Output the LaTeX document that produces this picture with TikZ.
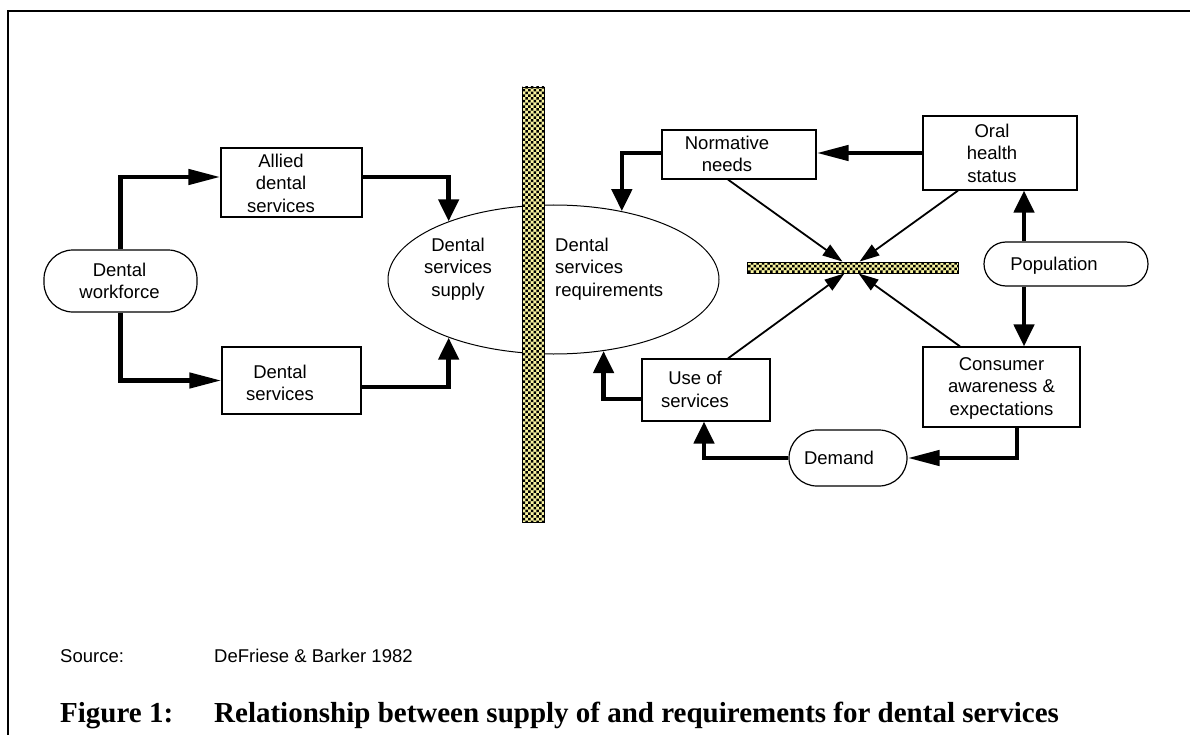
\documentclass[tikz,border=0pt]{standalone}
\usepackage{fontspec}
\setmainfont{Liberation Sans}
\newfontfamily\figcapfont{Liberation Serif}
\usetikzlibrary{arrows.meta}
\usetikzlibrary{shapes.geometric}
\usetikzlibrary{patterns}
\usetikzlibrary{calc}

\pgfdeclarepatternformonly{barspeckle}{\pgfqpoint{-1pt}{-1pt}}{\pgfqpoint{6.5pt}{6.5pt}}{\pgfqpoint{5.5pt}{5.5pt}}{%
  \pgfpathrectangle{\pgfqpoint{0pt}{0pt}}{\pgfqpoint{2.7pt}{2.5pt}}%
  \pgfpathrectangle{\pgfqpoint{2.75pt}{2.75pt}}{\pgfqpoint{2.7pt}{2.5pt}}%
  \pgfusepath{fill}}

\begin{document}
\begin{tikzpicture}[x=1pt,y=1pt,yscale=-1,xscale=1,
  every node/.style={font=\fontsize{18.5}{22.5}\selectfont},
  box/.style={draw, line width=1.2pt, inner sep=0pt},
  pill/.style={draw, line width=1.2pt, inner sep=0pt},
  boxtext/.style={align=center, inner sep=0pt},
  hatchbar/.style={draw, line width=0.8pt, inner sep=0pt, fill={rgb,255:red,250;green,245;blue,160}, postaction={pattern=barspeckle}},
  flow/.style={line width=4.5pt},
  vtip/.style={-{Triangle[length=22pt,width=20pt]}},
  htip/.style={-{Triangle[length=32pt,width=15pt]}},
  ray/.style={line width=1.8pt,-{Triangle[length=20pt,width=13pt]}}
]
\useasboundingbox (0,0) rectangle (1190,735);

%Straight Lines [frame]
\draw [line width=2.3pt] (8,735) -- (8,11) -- (1190,11);

%Shape: Ellipse [supply and requirements]
\node [draw, ellipse, line width=1pt, minimum width=331pt, minimum height=149pt, inner sep=0pt] (supply) at (553.5,279.5) {};
% Text Node
\node [boxtext] (supplytext) at (458,269) {Dental\\services\\supply};
% Text Node
\node [align=left, anchor=west, inner sep=0pt] (reqtext) at (555,269) {Dental\\services\\requirements};

%Shape: Rectangle [barriers]
\node [hatchbar, minimum width=22pt, minimum height=435pt] (vbar) at (533,304.5) {};
\node [hatchbar, minimum width=211pt, minimum height=11pt] (hbar) at (852.5,267.5) {};

%Shape: Rounded Rect [workforce]
\node [pill, rounded corners=29pt, minimum width=153pt, minimum height=62pt] (workforce) at (120.5,281) {};
%Shape: Rectangle [allied]
\node [box, minimum width=141pt, minimum height=69pt] (allied) at (291.5,182.5) {};
%Shape: Rectangle [dental services]
\node [box, minimum width=139pt, minimum height=67pt] (dentserv) at (291.5,380.5) {};
%Shape: Rectangle [normative]
\node [box, minimum width=154pt, minimum height=49pt] (normative) at (739,154.5) {};
%Shape: Rectangle [oral health]
\node [box, minimum width=154pt, minimum height=74pt] (oral) at (1000,153) {};
%Shape: Rounded Rect [population]
\node [pill, rounded corners=22pt, minimum width=164pt, minimum height=44pt] (population) at (1066,264) {};
%Shape: Rectangle [use]
\node [box, minimum width=128pt, minimum height=62pt] (use) at (706,390) {};
%Shape: Rectangle [consumer]
\node [box, minimum width=157pt, minimum height=80pt] (consumer) at (1001.5,387) {};
%Shape: Rounded Rect [demand]
\node [pill, rounded corners=28pt, minimum width=118pt, minimum height=56pt] (demand) at (848,458) {};

% Text Node
\node [boxtext] (workforcetext) at (119.5,281) {Dental\\workforce};
% Text Node
\node [boxtext] (alliedtext) at (281,183) {Allied\\dental\\services};
% Text Node
\node [boxtext] (dentservtext) at (280,383) {Dental\\services};
% Text Node
\node [boxtext] (normativetext) at (727,154) {Normative\\needs};
% Text Node
\node [boxtext] (oraltext) at (992,153) {Oral\\health\\status};
% Text Node
\node [boxtext] (populationtext) at (1054,266) {Population};
% Text Node
\node [boxtext] (usetext) at (695,389.5) {Use of\\services};
% Text Node
\node [boxtext] (consumertext) at (1001.5,388) {Consumer\\awareness \&\\expectations};
% Text Node
\node [boxtext] (demandtext) at (839,458) {Demand};

%Straight Lines [supply side]
\draw [flow, htip] (workforce.north) |- ($(allied.west)+(0,-5.5)$);
\draw [flow, htip] (workforce.south) |- (dentserv.west);
\draw [flow, vtip] ($(allied.east)+(0,-5.5)$) -| (supply.151);
\draw [flow, vtip] ($(dentserv.east)+(0,6.5)$) -| (supply.209);

%Straight Lines [requirements side]
\draw [flow, htip] (oral.west) -- (oral.west -| normative.east);
\draw [flow, vtip] ($(normative.west)+(0,-1.5)$) -| (supply.45);
\draw [flow, vtip] ($(population.north)+(-42,0)$) -- ($(oral.south)+(24,0)$);
\draw [flow, vtip] ($(population.south)+(-42,0)$) -- ($(consumer.north)+(22.5,0)$);
\draw [flow, htip] ($(consumer.south)+(15.5,0)$) |- (demand.east);
\draw [flow, vtip] (demand.west) -| ($(use.south)+(-2,0)$);
\draw [flow, vtip] ($(use.west)+(0,9)$) -| (supply.305);

%Straight Lines [into the barrier]
\draw [ray] ($(normative.south)+(-11,0)$) -- ($(hbar.north)+(-10,0)$);
\draw [ray] ($(oral.south)+(-42,0)$) -- ($(hbar.north)+(7,0)$);
\draw [ray] ($(use.north)+(22,0)$) -- ($(hbar.south)+(-8,0)$);
\draw [ray] ($(consumer.north)+(-41.5,0)$) -- ($(hbar.south)+(6,0)$);

% Text Node
\node [anchor=base west, inner sep=0pt] (sourcelabel) at (60,662) {Source:};
% Text Node
\node [anchor=base west, inner sep=0pt] (sourceref) at (214,662) {DeFriese \& Barker 1982};
% Text Node
\node [anchor=base west, inner sep=0pt, font=\figcapfont\bfseries\fontsize{29}{33}\selectfont] (figlabel) at (60,722) {Figure 1:};
% Text Node
\node [anchor=base west, inner sep=0pt, font=\figcapfont\bfseries\fontsize{29}{33}\selectfont] (figtitle) at (214,722) {Relationship between supply of and requirements for dental services};

\end{tikzpicture}
\end{document}
